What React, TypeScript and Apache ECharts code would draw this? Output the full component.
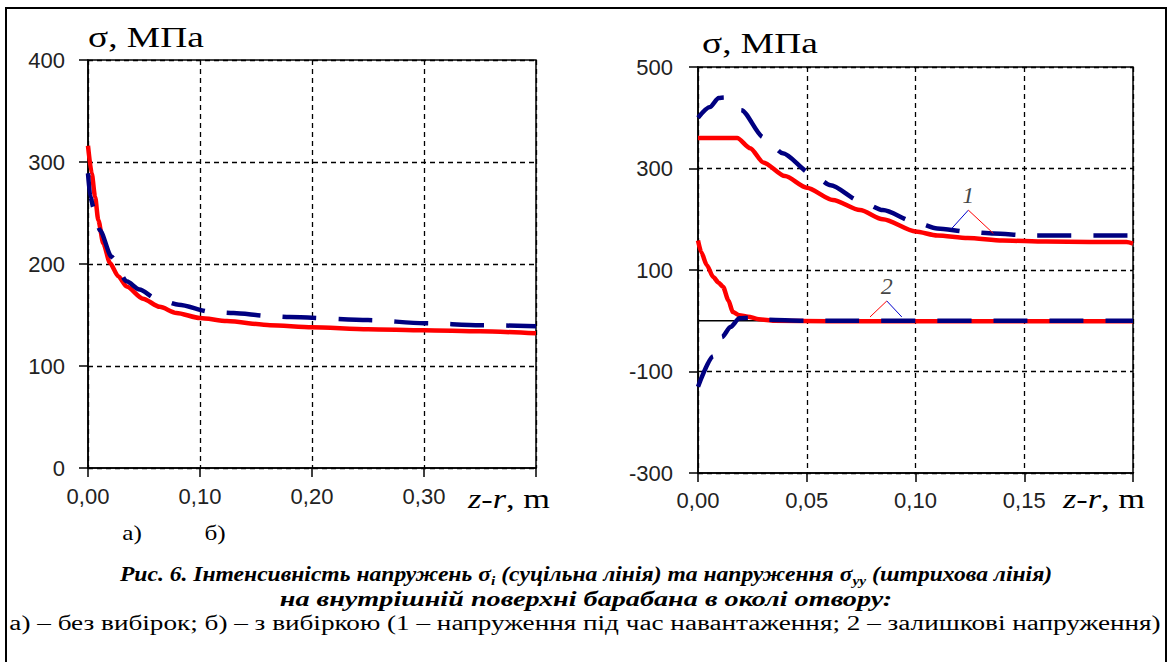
import React, { useEffect, useRef } from 'react';
import * as echarts from 'echarts';

// ---- panel а) : tick values
const leftXTicks = { min: 0, max: 0.4, interval: 0.1 };
const leftYTicks = { min: 0, max: 400, interval: 100 };
// ---- panel б) : tick values
const rightXTicks = { min: 0, max: 0.2, interval: 0.05 };
const rightYTicks = { min: -300, max: 500, interval: 200 };

// panel а): intensity σi (solid red) and σyy (dashed navy)
const leftIntensity: number[][] = [
  [0, 316], [0.0033, 289], [0.0063, 266], [0.0092, 243], [0.0137, 220], [0.0196, 201],
  [0.027, 188], [0.0345, 178], [0.049, 166], [0.064, 158], [0.079, 152], [0.1, 147],
  [0.124, 144], [0.1625, 140], [0.2, 138], [0.25, 136], [0.3, 135], [0.35, 134], [0.4, 132],
];
const leftStressYY: number[][] = [
  [0, 289], [0.002, 266], [0.005, 255], [0.0107, 233], [0.021, 207], [0.0345, 183],
  [0.046, 175], [0.061, 166], [0.081, 160], [0.11, 153], [0.13, 152], [0.161, 149],
  [0.18, 148], [0.25, 145], [0.3, 142], [0.35, 140], [0.4, 139],
];

// panel б): 1 – under load, 2 – residual
const loadIntensity: number[][] = [
  [0, 360], [0.018, 360], [0.024, 340], [0.03, 312], [0.04, 285], [0.05, 262], [0.062, 238],
  [0.0745, 218], [0.085, 200], [0.1, 176], [0.11, 168], [0.124, 163], [0.14, 158],
  [0.16, 156], [0.18, 155], [0.197, 155], [0.2, 152],
];
const loadStressYY: number[][] = [
  [0, 400], [0.0055, 421], [0.0095, 439], [0.012, 440], [0.02, 415], [0.03, 362], [0.039, 330],
  [0.052, 290], [0.061, 267], [0.0745, 236], [0.085, 218], [0.1, 194], [0.11, 182],
  [0.125, 175], [0.136, 172], [0.152, 168], [0.2, 168],
];
const residualIntensity: number[][] = [
  [0, 158], [0.0015, 135], [0.004, 110], [0.007, 86], [0.0095, 75], [0.0115, 67], [0.014, 40],
  [0.016, 17], [0.019, 11], [0.023, 8], [0.028, 3], [0.035, 0], [0.06, -1], [0.2, -1],
];
const residualStressYY: number[][] = [
  [0, -130], [0.007, -70], [0.011, -32], [0.015, -12], [0.019, 5], [0.024, 6], [0.03, 2],
  [0.05, 0], [0.2, 0],
];
const zeroLine: number[][] = [[0, 0], [0.2, 0]];

// curve labels "1" and "2" with their leaders
const leader1Blue: number[][] = [[0.1167, 182], [0.1243, 218]];
const leader1Red: number[][] = [[0.1243, 218], [0.1358, 172]];
const leader2Red: number[][] = [[0.0791, 7.5], [0.0868, 39]];
const leader2Blue: number[][] = [[0.0868, 39], [0.0937, 7.5]];
const curveLabels = [
  { name: '1', point: [0.1243, 218] },
  { name: '2', point: [0.0868, 39] },
];

const RED = '#ff0000';
const NAVY = '#000080';
const SANS = 'Liberation Sans, Arial, sans-serif';
const SERIF = 'Liberation Serif, Times New Roman, serif';

function fmtX(max: number) {
  return (v: number) => (Math.abs(v - max) < 1e-9 ? '' : v.toFixed(2).replace('.', ','));
}

function xAxisCfg(gridIndex: number, t: { min: number; max: number; interval: number }, margin: number) {
  return {
    type: 'value', gridIndex, min: t.min, max: t.max, interval: t.interval,
    axisLine: { show: true, onZero: false, lineStyle: { color: '#000', width: 1.5 } },
    axisTick: { show: true, inside: false, length: 9, lineStyle: { color: '#000', width: 1.5 } },
    axisLabel: { show: true, margin, color: '#222', fontSize: 22, fontFamily: SANS, formatter: fmtX(t.max) },
    splitLine: { show: true, lineStyle: { color: '#000', width: 1.3, type: [5, 4] } },
  };
}
function yAxisCfg(gridIndex: number, t: { min: number; max: number; interval: number }, margin: number) {
  return {
    type: 'value', gridIndex, min: t.min, max: t.max, interval: t.interval,
    axisLine: { show: true, onZero: false, lineStyle: { color: '#000', width: 1.5 } },
    axisTick: { show: true, inside: false, length: 9, lineStyle: { color: '#000', width: 1.5 } },
    axisLabel: { show: true, margin, color: '#222', fontSize: 22, fontFamily: SANS },
    splitLine: { show: true, lineStyle: { color: '#000', width: 1.3, type: [5, 4] } },
  };
}

function curve(data: number[][], axis: number, color: string, dashed: boolean, width = 4.5) {
  return {
    type: 'line', xAxisIndex: axis, yAxisIndex: axis, data, showSymbol: false, symbol: 'none',
    smooth: 0.25, smoothMonotone: 'x',
    lineStyle: { color, width, type: dashed ? [34, 22] : 'solid', cap: 'butt' },
    silent: true,
  };
}
function thin(data: number[][], color: string, width = 1) {
  return {
    type: 'line', xAxisIndex: 1, yAxisIndex: 1, data, showSymbol: false, symbol: 'none',
    lineStyle: { color, width }, silent: true,
  };
}

export default function App() {
  const ref = useRef<HTMLDivElement>(null);
  useEffect(() => {
    if (!ref.current) return;
    const chart = echarts.init(ref.current, undefined, { renderer: 'svg' });
    const bi = { fontFamily: SERIF, fontSize: 20, fontWeight: 'bold', fontStyle: 'italic', fill: '#000' };
    const axisName = (x: number) => ({
      type: 'text', x, y: 499, scaleX: 1.27,
      style: {
        text: '{i|z-r}, m', fontFamily: SERIF, fontSize: 27, fill: '#000', align: 'left', verticalAlign: 'middle',
        rich: { i: { fontFamily: SERIF, fontSize: 27, fontStyle: 'italic', fill: '#000' } },
      },
    });
    const option: any = {
      animation: false,
      backgroundColor: '#ffffff',
      textStyle: { fontFamily: SANS },
      grid: [
        { left: 88, top: 60, width: 448, height: 408, show: true, borderColor: '#000', borderWidth: 1.5 },
        { left: 698, top: 67, width: 435, height: 406, show: true, borderColor: '#000', borderWidth: 1.5 },
      ],
      xAxis: [xAxisCfg(0, leftXTicks, 17), xAxisCfg(1, rightXTicks, 16)],
      yAxis: [yAxisCfg(0, leftYTicks, 23), yAxisCfg(1, rightYTicks, 25)],
      series: [
        curve(leftIntensity, 0, RED, false),
        curve(leftStressYY, 0, NAVY, true),
        thin(zeroLine, '#000', 1.3),
        curve(loadIntensity, 1, RED, false),
        curve(residualIntensity, 1, RED, false),
        curve(loadStressYY, 1, NAVY, true),
        curve(residualStressYY, 1, NAVY, true),
        thin(leader1Blue, '#0000cc'),
        thin(leader1Red, RED),
        thin(leader2Red, RED),
        thin(leader2Blue, '#0000cc'),
        {
          type: 'scatter', xAxisIndex: 1, yAxisIndex: 1, symbolSize: 0, silent: true,
          data: curveLabels.map((c) => ({ name: c.name, value: c.point })),
          label: {
            show: true, position: 'top', distance: 3, formatter: (p: any) => p.name,
            fontFamily: SERIF, fontStyle: 'italic', fontSize: 24, color: '#111',
          },
        },
      ],
      graphic: [
        { type: 'rect', shape: { x: 6, y: 8, width: 1160, height: 700 }, style: { fill: 'none', stroke: '#000', lineWidth: 2 }, silent: true },
        { type: 'text', x: 88, y: 37.5, scaleX: 1.29, style: { text: 'σ, МПа', fontFamily: SERIF, fontSize: 29, fill: '#000', align: 'left', verticalAlign: 'middle' } },
        { type: 'text', x: 702, y: 43, scaleX: 1.29, style: { text: 'σ, МПа', fontFamily: SERIF, fontSize: 29, fill: '#000', align: 'left', verticalAlign: 'middle' } },
        axisName(468),
        axisName(1063),
        { type: 'text', x: 132, y: 533, scaleX: 1.2, style: { text: 'а)', fontFamily: SERIF, fontSize: 21, fill: '#000', align: 'center', verticalAlign: 'middle' } },
        { type: 'text', x: 215, y: 533, scaleX: 1.2, style: { text: 'б)', fontFamily: SERIF, fontSize: 21, fill: '#000', align: 'center', verticalAlign: 'middle' } },
        {
          type: 'text', x: 586, y: 576, scaleX: 1.18,
          style: {
            text: '{b|Рис. 6. Інтенсивність напружень σ}{s|i}{b| (суцільна лінія) та напруження σ}{s|yy}{b| (штрихова лінія)}',
            ...bi, align: 'center', verticalAlign: 'middle',
            rich: {
              b: { ...bi, lineHeight: 22, verticalAlign: 'top' },
              s: { ...bi, fontSize: 13, lineHeight: 13, padding: [11, 0, 0, 0], verticalAlign: 'bottom' },
            },
          },
        },
        { type: 'text', x: 586, y: 599, scaleX: 1.41, style: { text: 'на внутрішній поверхні барабана в околі отвору:', ...bi, align: 'center', verticalAlign: 'middle' } },
        { type: 'text', x: 585, y: 623, scaleX: 1.36, style: { text: 'а) – без вибірок; б) – з вибіркою (1 – напруження під час навантаження; 2 – залишкові напруження)', fontFamily: SERIF, fontSize: 20, fill: '#000', align: 'center', verticalAlign: 'middle' } },
      ],
    };
    chart.setOption(option);
    return () => chart.dispose();
  }, []);
  return <div ref={ref} style={{ position: 'fixed', left: 0, top: 0, width: 1172, height: 662, background: '#fff' }} />;
}
